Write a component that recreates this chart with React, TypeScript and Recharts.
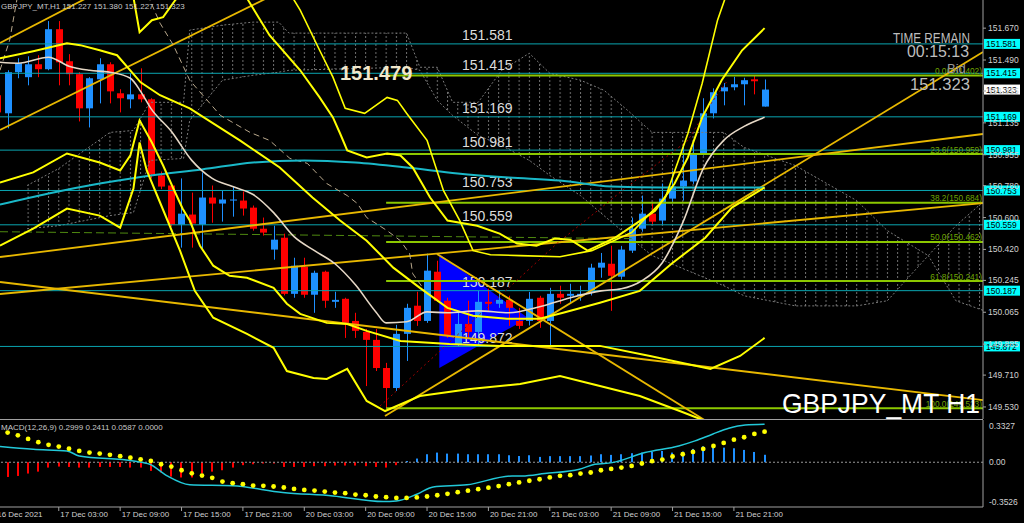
import React from 'react';
import { ComposedChart, Bar, Line, Area, XAxis, YAxis, ReferenceLine } from 'recharts';

const FONT = '"Liberation Sans", Arial, sans-serif';
const BULL = '#1e90ff';
const BEAR = '#ff0000';
const X_DOMAIN: [number, number] = [0.254, 96.35];
const Y_DOMAIN: [number, number] = [149.462, 151.829];

// bar index k: 0 = 16 Dec 21:00 ... 75 = 22 Dec 00:00 (H1)
const opens = [151.291, 151.189, 151.421, 151.393, 151.466, 151.438, 151.664, 151.483, 151.41, 151.217,
  151.381, 151.466, 151.302, 151.268, 151.296, 151.268, 150.838, 150.781, 150.56, 150.617,
  150.56, 150.713, 150.679, 150.696, 150.696, 150.656, 150.537, 150.419, 150.486, 150.169,
  150.322, 150.164, 150.294, 150.124, 150.141, 150.016, 149.954, 149.909, 149.75, 149.637,
  149.943, 150.102, 150.016, 150.294, 150.13, 149.88, 149.999, 149.954, 150.124, 150.113,
  150.135, 150.016, 150.016, 150.147, 150.016, 150.169, 150.158, 150.158, 150.175, 150.317,
  150.339, 150.266, 150.413, 150.537, 150.622, 150.583, 150.707, 150.775, 150.804, 150.957,
  151.189, 151.313, 151.336, 151.353, 151.381, 151.227];
const highs = [151.302, 151.432, 151.5, 151.511, 151.517, 151.71, 151.71, 151.523, 151.421, 151.393,
  151.5, 151.477, 151.325, 151.415, 151.443, 151.274, 150.86, 150.792, 150.821, 150.741,
  150.855, 150.781, 150.753, 150.775, 150.747, 150.668, 150.6, 150.554, 150.509, 150.373,
  150.373, 150.3, 150.3, 150.181, 150.147, 150.062, 149.971, 149.971, 149.779, 149.994,
  150.113, 150.181, 150.396, 150.356, 150.147, 150.073, 150.13, 150.186, 150.198, 150.186,
  150.158, 150.09, 150.18, 150.158, 150.203, 150.215, 150.226, 150.215, 150.339, 150.4,
  150.441, 150.44, 150.6, 150.724, 150.685, 150.792, 150.866, 151.019, 151.019, 151.274,
  151.33, 151.36, 151.395, 151.39, 151.402, 151.38];
const lows = [151.177, 151.104, 151.387, 151.347, 151.393, 151.432, 151.347, 151.347, 151.143, 151.109,
  151.245, 151.245, 151.194, 151.217, 151.251, 150.821, 150.76, 150.549, 150.43, 150.43,
  150.424, 150.571, 150.577, 150.605, 150.611, 150.526, 150.498, 150.362, 150.16, 150.147,
  150.147, 150.062, 150.09, 150.09, 149.92, 149.92, 149.648, 149.733, 149.523, 149.62,
  149.79, 149.988, 150.005, 150.124, 149.92, 149.87, 149.92, 149.875, 150.073, 150.09,
  149.988, 149.971, 149.99, 149.977, 149.875, 150.113, 150.113, 150.13, 150.16, 150.26,
  150.073, 150.25, 150.4, 150.52, 150.56, 150.56, 150.69, 150.696, 150.79, 150.95,
  151.16, 151.234, 151.319, 151.234, 151.296, 151.227];
const closes = [151.194, 151.421, 151.472, 151.466, 151.438, 151.664, 151.477, 151.41, 151.217, 151.387,
  151.466, 151.313, 151.274, 151.296, 151.268, 150.843, 150.775, 150.56, 150.622, 150.566,
  150.713, 150.679, 150.702, 150.702, 150.651, 150.537, 150.515, 150.475, 150.169, 150.328,
  150.164, 150.288, 150.13, 150.135, 150.005, 149.96, 149.909, 149.75, 149.637, 149.943,
  150.09, 150.016, 150.3, 150.13, 149.931, 149.999, 149.954, 150.124, 150.113, 150.135,
  150.09, 149.988, 150.141, 150.016, 150.169, 150.147, 150.169, 150.169, 150.317, 150.345,
  150.271, 150.419, 150.537, 150.622, 150.577, 150.707, 150.775, 150.809, 150.962, 151.189,
  151.308, 151.336, 151.353, 151.376, 151.37, 151.323];

// indicator traces, [bar, price]
const maWhite = [[0.25, 151.477], [2, 151.472], [5, 151.506], [7, 151.455], [9, 151.432], [11, 151.421], [13, 151.387],
  [14, 151.313], [15, 151.217], [17, 151.087], [19, 150.923], [21, 150.821], [23, 150.775], [25, 150.73], [27, 150.628],
  [29, 150.492], [31, 150.413], [33, 150.339], [35, 150.22], [37, 150.067], [38, 150.005], [40, 150.011], [42, 150.067],
  [44, 150.062], [47, 150.073], [50, 150.062], [53, 150.096], [56, 150.147], [59, 150.186], [61, 150.198], [63, 150.243],
  [65, 150.345], [67, 150.571], [69, 150.877], [71, 151.036], [73, 151.115], [75, 151.166]];
const maCyan = [[0.25, 150.673], [5, 150.736], [10, 150.792], [15, 150.838], [20, 150.872], [25, 150.911], [30, 150.923],
  [35, 150.911], [40, 150.883], [45, 150.849], [50, 150.826], [55, 150.809], [60, 150.775], [65, 150.77], [70, 150.77], [75, 150.77]];
const bbMid = [[0.25, 151.5], [3.5, 151.54], [6.8, 151.585], [8.1, 151.574], [10, 151.545], [11.7, 151.517], [14, 151.364],
  [15.9, 151.291], [18.8, 151.217], [23.7, 151.036], [27.6, 150.883], [30.8, 150.713], [33.5, 150.583], [36.1, 150.469],
  [38.7, 150.317], [41.3, 150.203], [44, 150.09], [46.5, 150.045], [49.8, 150.028], [53, 150.028], [55.3, 150.062],
  [58.9, 150.119], [62.8, 150.186], [65.9, 150.339], [69.2, 150.486], [71.8, 150.656], [75, 150.77]];
const bbUp1 = [[13, 151.942], [13.9, 151.647], [15.1, 151.715], [16.2, 151.732], [17.4, 151.829], [19.8, 151.998],
  [22.7, 151.998], [24.5, 151.829], [26.6, 151.63], [29.6, 151.432], [31.5, 151.279], [32.8, 151.166], [33.5, 151.075],
  [34.2, 150.979], [36.1, 150.94], [38.1, 150.962], [39.4, 150.951], [40.6, 150.883], [42.3, 150.713], [44, 150.583],
  [46.9, 150.554], [49.1, 150.509], [50.8, 150.453], [52.7, 150.441], [54.5, 150.481], [56, 150.475], [57.7, 150.413],
  [60.4, 150.487], [64.3, 150.639], [66.2, 150.792], [67.5, 150.94], [68.9, 151.166], [70.8, 151.376], [72.8, 151.545], [75, 151.67]];
const bbUp2 = [[26.6, 152.055], [29.6, 151.772], [31.5, 151.545], [32.8, 151.393], [34, 151.217], [35.9, 151.189],
  [38.1, 151.279], [39.1, 151.262], [40, 151.189], [42, 151.036], [43.6, 150.753], [45.2, 150.583], [46.5, 150.413],
  [48.2, 150.39], [51.1, 150.385], [55, 150.379], [58.1, 150.413], [62, 150.515], [65.3, 150.713], [67.5, 151.075],
  [68.9, 151.359], [70.4, 151.715], [72.1, 151.998]];
const bbLow1 = [[0.25, 150.798], [3.5, 150.855], [6.8, 150.962], [10, 150.911], [12, 150.866], [13, 150.951], [13.9, 151.149],
  [15.1, 151.024], [16.2, 150.894], [17.2, 150.764], [18.1, 150.651], [18.8, 150.583], [19.8, 150.441], [21.1, 150.328],
  [22.7, 150.271], [24.4, 150.26], [27, 150.203], [28.3, 150.113], [29.6, 150.056], [32.2, 150.005], [34.2, 149.999],
  [36.1, 149.96], [39.4, 149.903], [44.2, 149.886], [49.1, 149.875], [55, 149.875], [58.9, 149.875], [63.8, 149.818],
  [69.7, 149.745], [72.6, 149.818], [75, 149.92]];
const bbLow2 = [[0.25, 150.441], [3.5, 150.537], [6.8, 150.651], [10, 150.611], [12, 150.543], [13.3, 150.764], [13.9, 151.024],
  [14.6, 150.866], [15.9, 150.685], [17.85, 150.413], [19.3, 150.186], [21.1, 150.034], [24.4, 149.943], [27, 149.864],
  [28.3, 149.733], [30.9, 149.694], [32.2, 149.688], [34.2, 149.745], [36.1, 149.564], [37.9, 149.507], [41.3, 149.592],
  [46.2, 149.631], [51.1, 149.66], [55, 149.705], [58.9, 149.648], [62.8, 149.592], [66.7, 149.507], [68.7, 149.462], [70.6, 149.382]];
const laggingDash = [[0.25, 151.432], [1.2, 151.602], [1.9, 151.829], [4.2, 152.111], [12, 152.111], [14.9, 151.829],
  [15.9, 151.698], [17.2, 151.574], [18.8, 151.376], [21.8, 151.177], [24.7, 151.081], [26.6, 151.036], [28.6, 150.934],
  [30.3, 150.906], [32.2, 150.792], [34.2, 150.724], [35.2, 150.679], [36.1, 150.6], [38.1, 150.526], [39.4, 150.469],
  [40.3, 150.396], [40.6, 150.283], [41.8, 150.186]];
const redDotted = [[37.4, 149.535], [54.7, 150.453], [61.1, 150.753], [67.5, 151.036], [69.5, 151.223], [71.4, 151.376]];

// ichimoku cloud: [bar, upper span, lower span]
const kumo = [[2.9, 150.781, 150.537], [6, 150.877, 150.554], [11, 151.081, 150.611], [13.3, 151.092, 150.628],
  [14.9, 151.251, 150.923], [18.2, 151.251, 150.934], [18.8, 151.659, 151.149], [22, 151.687, 151.376], [25, 151.704, 151.404],
  [27.5, 151.704, 151.421], [28.5, 151.642, 151.432], [40, 151.642, 151.449], [41.3, 151.449, 151.432], [43, 151.449, 151.262],
  [44.5, 151.251, 151.177], [47, 151.251, 151.064], [49.3, 151.432, 151.007], [52, 151.528, 150.923], [54, 151.415, 150.838],
  [57, 151.376, 150.724], [59.3, 151.319, 150.611], [61.6, 151.206, 150.498], [64, 151.081, 150.385], [71, 151.081, 150.215],
  [73, 150.996, 150.158], [78, 150.894, 150.101], [84, 150.696, 150.101], [87, 150.526, 150.13], [91, 150.385, 150.385],
  [93.7, 150.554, 150.13], [96.5, 150.696, 150.073]];
const triangle = [[43.2, 149.75, 150.394], [51.87, 150.033, 150.033]];

const trendLines = [
  [[0.254, 151.586], [10.03, 151.879]],
  [[0.254, 151.095], [28.6, 151.904]],
  [[0.254, 150.377], [96.35, 151.072]],
  [[0.254, 150.236], [96.35, 149.569]],
  [[0.254, 150.168], [96.35, 150.682]],
  [[37.89, 149.479], [96.35, 151.535]],
  [[42.97, 150.394], [72.59, 149.332]],
];
const greenDash = [[0.254, 150.52], [62, 150.481]];

const levels = [151.581, 151.415, 151.169, 150.981, 150.753, 150.559, 150.187, 149.872];
const fibNames = ['0.0', '23.6', '38.2', '50.0', '61.8', '100.0'];
const fibValues = [151.402, 150.959, 150.684, 150.462, 150.241, 149.523];
const bidPrice = 151.323;

const priceTicks = [151.67, 151.49, 151.315, 151.135, 150.955, 150.78, 150.6, 150.42, 150.245, 150.065, 149.885, 149.71, 149.53];
const timeTickValues = [0.254, 6, 12, 18, 24, 30, 36, 42, 48, 54, 60, 66, 72];
const timeTickLabels = ['16 Dec 2021', '17 Dec 03:00', '17 Dec 09:00', '17 Dec 15:00', '17 Dec 21:00', '20 Dec 03:00',
  '20 Dec 09:00', '20 Dec 15:00', '20 Dec 21:00', '21 Dec 03:00', '21 Dec 09:00', '21 Dec 15:00', '21 Dec 21:00'];

// MACD(12,26,9)
const macdHist = [-0.12, -0.116, -0.108, -0.089, -0.074, -0.042, -0.034, -0.037, -0.042, -0.042,
  -0.037, -0.037, -0.037, -0.042, -0.042, -0.068, -0.081, -0.113, -0.12, -0.12,
  -0.089, -0.074, -0.063, -0.042, -0.023, -0.016, -0.01, -0.01, -0.037, -0.037,
  -0.037, -0.031, -0.031, -0.026, -0.026, -0.026, -0.031, -0.037, -0.042, -0.023,
  0.01, 0.029, 0.063, 0.076, 0.068, 0.068, 0.063, 0.063, 0.063, 0.063,
  0.055, 0.049, 0.055, 0.042, 0.048, 0.048, 0.048, 0.048, 0.053, 0.063,
  0.058, 0.063, 0.071, 0.076, 0.081, 0.089, 0.076, 0.084, 0.105, 0.126,
  0.142, 0.115, 0.11, 0.097, 0.081, 0.0587];
const macdSignal = [null, 0.234, 0.212, 0.184, 0.158, 0.137, 0.123, 0.107, 0.089, 0.076,
  0.068, 0.058, 0.048, 0.036, 0.023, 0.01, -0.016, -0.034, -0.063, -0.087,
  -0.105, -0.123, -0.152, -0.165, -0.173, -0.184, -0.186, -0.191, -0.199, -0.21,
  -0.218, -0.223, -0.231, -0.239, -0.244, -0.255, -0.26, -0.27, -0.275, -0.281,
  -0.281, -0.277, -0.27, -0.26, -0.249, -0.236, -0.224, -0.212, -0.2, -0.188,
  -0.173, -0.159, -0.146, -0.134, -0.12, -0.107, -0.102, -0.089, -0.081, -0.063,
  -0.053, -0.042, -0.029, -0.01, 0.008, 0.021, 0.045, 0.063, 0.081, 0.105,
  0.128, 0.152, 0.178, 0.197, 0.223, 0.2411];
const macdMain = [[0.25, 0.124], [3.5, 0.102], [6.8, 0.089], [8, 0.049], [13.3, 0.01], [14.9, -0.016], [16.6, -0.108],
  [18.8, -0.178], [23, -0.186], [27.9, -0.238], [32.8, -0.265], [37.7, -0.309], [39, -0.305], [41, -0.252], [42.6, -0.195],
  [45.9, -0.178], [50.3, -0.108], [51.3, -0.108], [53.5, -0.089], [56.9, -0.055], [58.4, -0.016], [60.1, -0.003],
  [63.3, 0.076], [66.6, 0.128], [68.2, 0.168], [69.9, 0.221], [71.5, 0.268], [73.1, 0.294], [75, 0.2999]];

const toPts = (arr: number[][]) => arr.map(([k, v]) => ({ k, v }));
const candles = opens.map((o, k) => ({ k, o, h: highs[k], l: lows[k], c: closes[k], range: [lows[k], highs[k]] }));
const kumoPts = kumo.map(([k, a, b]) => ({ k, a, b, span: [Math.min(a, b), Math.max(a, b)] }));
const trianglePts = triangle.map(([k, lo, hi]) => ({ k, span: [lo, hi] }));
const macdRows = macdHist.map((h, k) => ({ k, hist: h, signal: macdSignal[k] }));

const Candle = (props: any) => {
  const { x, y, width, height, payload } = props;
  if (!payload) return null;
  const { o, h, l, c } = payload;
  const color = c >= o ? BULL : BEAR;
  const top = height >= 0 ? y : y + height;
  const hh = Math.abs(height);
  const ppu = h - l > 0 ? hh / (h - l) : 0;
  const bTop = top + (h - Math.max(o, c)) * ppu;
  const bBot = top + (h - Math.min(o, c)) * ppu;
  const cx = Math.round(x + width / 2) + 0.5;
  return (
    <g>
      <line x1={cx} x2={cx} y1={top} y2={top + hh} stroke={color} strokeWidth={1} />
      <rect x={cx - 3.5} y={bTop} width={7} height={Math.max(1, bBot - bTop)} fill={color} />
    </g>
  );
};

const HistBar = (props: any) => {
  const { x, y, width, height, payload } = props;
  if (!payload) return null;
  const top = height >= 0 ? y : y + height;
  const cx = Math.round(x + width / 2);
  return <rect x={cx - 1} y={top} width={2} height={Math.max(1, Math.abs(height))} fill={payload.hist >= 0 ? BULL : BEAR} />;
};

const LevelLabel = (props: any) => {
  const { viewBox, v } = props;
  if (!viewBox) return null;
  const { x, y, width } = viewBox;
  return (
    <g>
      <text x={462} y={y - 3.5} fill="#dcdcdc" fontSize={14} fontFamily={FONT}>{v.toFixed(3)}</text>
      <rect x={x + width + 1} y={y - 5} width={36} height={10} fill="#00ffff" />
      <text x={x + width + 3} y={y + 3.2} fill="#000" fontSize={8.5} fontFamily={FONT}>{v.toFixed(3)}</text>
    </g>
  );
};

const BidLabel = (props: any) => {
  const { viewBox } = props;
  if (!viewBox) return null;
  const { x, y, width } = viewBox;
  return (
    <g>
      <rect x={x + width + 1} y={y - 5} width={36} height={10} fill="#ffffff" />
      <text x={x + width + 3} y={y + 3.2} fill="#000" fontSize={8.5} fontFamily={FONT}>{bidPrice.toFixed(3)}</text>
    </g>
  );
};

const FibLabel = (props: any) => {
  const { viewBox, name, v } = props;
  if (!viewBox) return null;
  const { x, y, width } = viewBox;
  return (
    <text x={x + width - 1} y={y - 1.5} textAnchor="end" fill="#6fa400" fontSize={8.3} fontFamily={FONT}>
      {`${name}(${v.toFixed(3)})`}
    </text>
  );
};

const PriceTick = (props: any) => {
  const { x, y, payload } = props;
  return (
    <text x={x} y={y + 3} fill="#d0d0d0" fontSize={8.5} fontFamily={FONT}>{payload.value.toFixed(3)}</text>
  );
};

const MacdTick = (props: any) => {
  const { x, y, payload } = props;
  const v = payload.value;
  const dy = v > 0.1 ? 9 : v < -0.1 ? -2 : 3;
  const txt = v === 0 ? '0.00' : v.toFixed(4);
  return <text x={x - 2} y={y + dy} fill="#d0d0d0" fontSize={8.5} fontFamily={FONT}>{txt}</text>;
};

const TimeTick = (props: any) => {
  const { x, payload } = props;
  const i = timeTickValues.indexOf(payload.value);
  const first = i === 0;
  return (
    <g>
      {!first && <line x1={x} x2={x} y1={88} y2={92} stroke="#a0a0a0" />}
      <text x={first ? -2.8 : x + 1.5} y={98} fill="#d0d0d0" fontSize={8} fontFamily={FONT}>{timeTickLabels[i]}</text>
    </g>
  );
};

const band = (data: number[][], stroke: string, width: number, key: string, extra: any = {}) => (
  <Line key={key} data={toPts(data)} dataKey="v" type="linear" stroke={stroke} strokeWidth={width}
    dot={false} activeDot={false} isAnimationActive={false} {...extra} />
);

function MainChart() {
  return (
    <ComposedChart width={1024} height={419} data={candles} margin={{ top: 0, right: 0, bottom: 0, left: 0 }}>
      <defs>
        <pattern id="kumoHatch" patternUnits="userSpaceOnUse" x={-3.1} y={0} width={10.23} height={4}>
          <rect x={0} y={0} width={1} height={2} fill="#707070" />
        </pattern>
      </defs>
      <XAxis type="number" dataKey="k" domain={X_DOMAIN} allowDataOverflow hide />
      <YAxis orientation="right" width={41} domain={Y_DOMAIN} allowDataOverflow ticks={priceTicks} interval={0}
        tick={(p: any) => <PriceTick {...p} />} tickSize={3} tickLine={{ stroke: '#a0a0a0' }} axisLine={{ stroke: '#a0a0a0' }} />
      <Area data={kumoPts} dataKey="span" type="linear" stroke="none" fill="url(#kumoHatch)" fillOpacity={1} isAnimationActive={false} />
      <Line data={kumoPts} dataKey="a" type="linear" stroke="#7a7a7a" strokeDasharray="2 2" strokeWidth={1} dot={false} activeDot={false} isAnimationActive={false} />
      <Line data={kumoPts} dataKey="b" type="linear" stroke="#7a7a7a" strokeDasharray="2 2" strokeWidth={1} dot={false} activeDot={false} isAnimationActive={false} />
      <Area data={trianglePts} dataKey="span" type="linear" stroke="none" fill="#0000ff" fillOpacity={1} isAnimationActive={false} />
      {levels.map((v) => (
        <ReferenceLine key={`lv${v}`} y={v} stroke="#0aa5b0" strokeWidth={1} ifOverflow="hidden" label={<LevelLabel v={v} />} />
      ))}
      <ReferenceLine y={bidPrice} stroke="none" ifOverflow="hidden" label={<BidLabel />} />
      {fibValues.map((v, i) => (
        <ReferenceLine key={`fb${v}`} segment={[{ x: 38, y: v }, { x: X_DOMAIN[1], y: v }]} stroke="#8cc800" strokeWidth={2}
          ifOverflow="hidden" label={<FibLabel name={fibNames[i]} v={v} />} />
      ))}
      <ReferenceLine segment={[{ x: greenDash[0][0], y: greenDash[0][1] }, { x: greenDash[1][0], y: greenDash[1][1] }]}
        stroke="#4f8a10" strokeDasharray="8 4" strokeWidth={1} ifOverflow="hidden" />
      {trendLines.map((t, i) => (
        <ReferenceLine key={`tl${i}`} segment={[{ x: t[0][0], y: t[0][1] }, { x: t[1][0], y: t[1][1] }]}
          stroke="#e8b800" strokeWidth={1.8} ifOverflow="hidden" />
      ))}
      <Bar dataKey="range" barSize={7} shape={(p: any) => <Candle {...p} />} isAnimationActive={false} />
      {band(laggingDash, '#b9a88c', 1, 'lag', { strokeDasharray: '6 4' })}
      {band(redDotted, '#a00000', 1, 'red', { strokeDasharray: '2 3' })}
      {band(maCyan, '#1ab8c8', 2, 'cyan', { type: 'monotone' })}
      {band(bbLow2, '#ffff00', 2, 'l2')}
      {band(bbLow1, '#ffff00', 2, 'l1')}
      {band(bbMid, '#ffff00', 2, 'mid')}
      {band(bbUp1, '#ffff00', 2, 'u1')}
      {band(bbUp2, '#ffff00', 1.6, 'u2')}
      {band(maWhite, '#e6d8c6', 1.6, 'ma', { type: 'monotone' })}
    </ComposedChart>
  );
}

function MacdChart() {
  return (
    <ComposedChart width={1024} height={104} data={macdRows} margin={{ top: 1, right: 0, bottom: 0, left: 0 }}>
      <XAxis type="number" dataKey="k" domain={X_DOMAIN} allowDataOverflow ticks={timeTickValues} interval={0} height={16}
        tick={(p: any) => <TimeTick {...p} />} tickLine={false} axisLine={{ stroke: '#a0a0a0' }} />
      <YAxis orientation="right" width={41} domain={[-0.3526, 0.3327]} allowDataOverflow ticks={[0.3327, 0, -0.3526]} interval={0}
        tick={(p: any) => <MacdTick {...p} />} tickLine={false} axisLine={{ stroke: '#a0a0a0' }} />
      <ReferenceLine y={0} stroke="#9a9a9a" strokeDasharray="2 2" />
      <Bar dataKey="hist" barSize={2} shape={(p: any) => <HistBar {...p} />} isAnimationActive={false} />
      <Line data={toPts(macdMain)} dataKey="v" type="monotone" stroke="#22c8d8" strokeWidth={1.5} dot={false} activeDot={false} isAnimationActive={false} />
      <Line dataKey="signal" stroke="none" dot={{ r: 2.4, fill: '#ffff00', stroke: 'none' }} activeDot={false} isAnimationActive={false} />
    </ComposedChart>
  );
}

function Overlay() {
  const t = { fontFamily: FONT };
  return (
    <svg width={1024} height={523} style={{ position: 'absolute', left: 0, top: 0, pointerEvents: 'none' }}>
      <line x1={0} x2={983} y1={419.5} y2={419.5} stroke="#a0a0a0" />
      <text x={1} y={9} fontSize={8} fill="#c8c8c8" {...t}>GBPJPY_MT,H1  151.227 151.380 151.227 151.323</text>
      <text x={340} y={80} fontSize={20} fontWeight="bold" fill="#f2e8cc" {...t}>151.479</text>
      <text x={893} y={43} fontSize={14} fill="#bdbdbd" textLength={77} lengthAdjust="spacingAndGlyphs" {...t}>TIME REMAIN</text>
      <text x={907} y={57} fontSize={17} fill="#bdbdbd" textLength={62} lengthAdjust="spacingAndGlyphs" {...t}>00:15:13</text>
      <text x={947} y={73} fontSize={13} fill="#9a9a9a" {...t}>Bid</text>
      <text x={910} y={90} fontSize={17} fill="#bdbdbd" textLength={60} lengthAdjust="spacingAndGlyphs" {...t}>151.323</text>
      <text x={782} y={413} fontSize={28} fill="#ffffff" textLength={198} lengthAdjust="spacingAndGlyphs" {...t}>GBPJPY_MT H1</text>
      <text x={1} y={430} fontSize={8} fill="#c8c8c8" {...t}>MACD(12,26,9) 0.2999 0.2411 0.0587 0.0000</text>
    </svg>
  );
}

export default function App() {
  return (
    <div style={{ position: 'fixed', left: 0, top: 0, width: 1024, height: 523, background: '#000', overflow: 'hidden' }}>
      <div style={{ position: 'absolute', left: 0, top: 0 }}>
        <MainChart />
      </div>
      <div style={{ position: 'absolute', left: 0, top: 419 }}>
        <MacdChart />
      </div>
      <Overlay />
    </div>
  );
}
